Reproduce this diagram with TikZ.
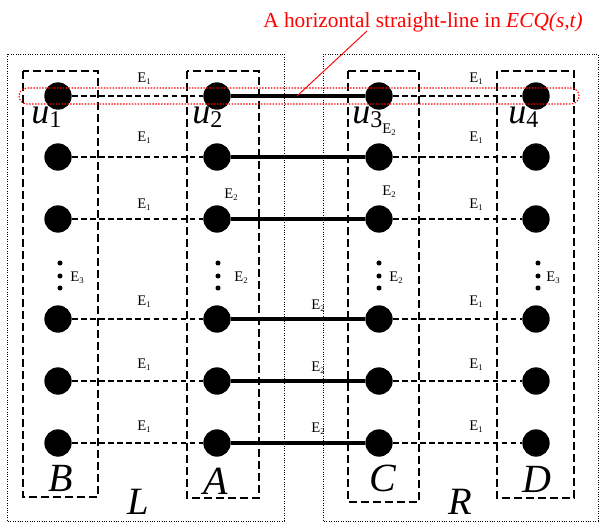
\documentclass[tikz,border=0pt]{standalone}
\usepackage{fontspec}
\setmainfont{Liberation Serif}
\begin{document}
% one unit = one pixel of the 613 x 522 canvas, y grows downwards
\begin{tikzpicture}[x=0.75pt,y=-0.75pt,
  vertex/.style={circle,fill=black,draw=none,minimum size=20.5pt,inner sep=0pt},
  tinydot/.style={circle,fill=black,draw=none,minimum size=3.8pt,inner sep=0pt},
  setbox/.style={draw=black,line width=0.95pt,dash pattern=on 6pt off 3pt},
  halfbox/.style={draw=black,line width=0.6pt,dash pattern=on 0.7pt off 1.1pt},
  lightedge/.style={draw=black,line width=0.9pt,dash pattern=on 4.2pt off 2.6pt},
  heavyedge/.style={draw=black,line width=3pt},
  elabel/.style={inner sep=0pt,font=\fontsize{11}{11}\selectfont},
  biglabel/.style={inner sep=0pt,font=\fontsize{30}{30}\selectfont\itshape},
  sidelabel/.style={inner sep=0pt,font=\fontsize{29}{29}\selectfont\itshape},
  ulabel/.style={inner sep=0pt,anchor=base west},
  marker/.style={draw=red,line width=0.8pt,dash pattern=on 1.1pt off 1.1pt,rounded corners=6pt}]
\newcommand{\elab}[1]{E\raisebox{-0.35ex}{\fontsize{6.5}{6.5}\selectfont #1}}
\newcommand{\ulab}[1]{{\fontsize{27}{27}\selectfont\itshape u}\raisebox{-0.3em}{\fontsize{18}{18}\selectfont #1}}
\useasboundingbox (0,0) rectangle (613,522);

% halves L and R
\draw[halfbox] (7,54) rectangle (284,521);
\draw[halfbox] (323,54) rectangle (598,521);

% columns B, A, C, D
\draw[setbox] (23,71) rectangle (98,497);
\draw[setbox] (187,71) rectangle (259,498);
\draw[setbox] (348,71) rectangle (419,502);
\draw[setbox] (497,71) rectangle (574,498);

% vertices
\foreach \r/\y in {1/96,2/157,3/219,4/319,5/381,6/443}{
  \node[vertex] (b\r) at (58,\y) {};
  \node[vertex] (a\r) at (217,\y) {};
  \node[vertex] (c\r) at (379,\y) {};
  \node[vertex] (d\r) at (536,\y) {};
}

% edges of each row
\foreach \r in {1,...,6}{
  \draw[lightedge] (b\r) -- (a\r);
  \draw[heavyedge] (a\r) -- (c\r);
  \draw[lightedge] (c\r) -- (d\r);
}

% vertical ellipses
\foreach \n/\x in {B/60,A/218,C/379,D/538}{
  \node[tinydot] (e\n1) at (\x,263) {};
  \node[tinydot] (e\n2) at (\x,276) {};
  \node[tinydot] (e\n3) at (\x,288) {};
}

% edge class labels
\foreach \y in {79,138,205,302,365,427}{
  \node[elabel] at (144,\y) {\elab{1}};
  \node[elabel] at (476,\y) {\elab{1}};
}
\node[elabel] at (389,130) {\elab{2}};
\node[elabel] at (231,195) {\elab{2}};
\node[elabel] at (389,192) {\elab{2}};
\node[elabel] at (318,306) {\elab{2}};
\node[elabel] at (318,368) {\elab{2}};
\node[elabel] at (318,429) {\elab{2}};
\node[elabel] at (77,278) {\elab{3}};
\node[elabel] at (241,278) {\elab{2}};
\node[elabel] at (396,278) {\elab{2}};
\node[elabel] at (553,278) {\elab{3}};

% vertex names on the first row
\node[ulabel] (u1) at (31,123) {\ulab{1}};
\node[ulabel] (u2) at (192,123) {\ulab{2}};
\node[ulabel] (u3) at (352,123) {\ulab{3}};
\node[ulabel] (u4) at (508,123) {\ulab{4}};

% column and half names
\node[biglabel] (nB) at (61,478) {B};
\node[biglabel] (nA) at (216,481) {A};
\node[biglabel] (nC) at (383,478) {C};
\node[biglabel] (nD) at (537,479) {D};
\node[sidelabel] (nL) at (138,502) {L};
\node[sidelabel] (nR) at (460,502) {R};

% highlighted first row and its note
\draw[marker] (19,88) rectangle (579,104);
\node[inner sep=0pt,anchor=base,text=red,font=\fontsize{16}{16}\selectfont] (note) at (423,27)
  {A horizontal straight-line in \textit{ECQ(s,t)}};
\coordinate (noteFoot) at (367,31);
\coordinate (tip) at (297,96);
\draw[red,line width=0.7pt] (noteFoot) -- (tip);
\end{tikzpicture}
\end{document}
